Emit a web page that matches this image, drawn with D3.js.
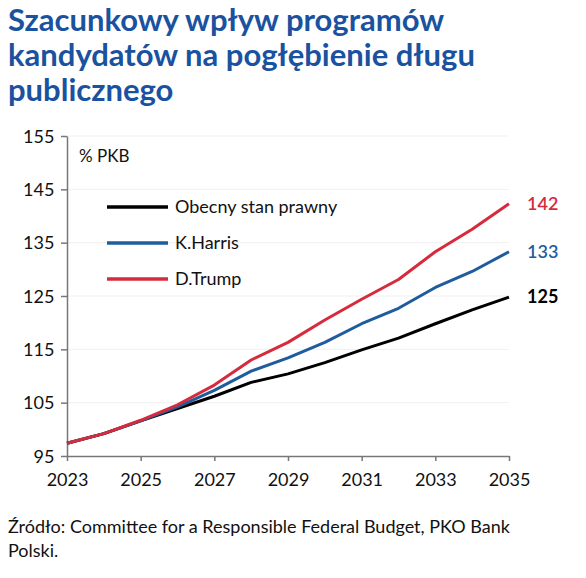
<!DOCTYPE html>
<html>
<head>
<meta charset="utf-8">
<script src="https://cdn.jsdelivr.net/npm/d3@7"></script>
<style>
  body { margin: 0; background: #fff; }
  text { font-family: Lato, "Open Sans", sans-serif; }
</style>
</head>
<body>
<script>
// data
var years = [2023, 2024, 2025, 2026, 2027, 2028, 2029, 2030, 2031, 2032, 2033, 2034, 2035];
var obecny = [97.4, 99.2, 101.6, 103.9, 106.2, 108.8, 110.4, 112.5, 114.9, 117.1, 119.8, 122.4, 124.8];
var harris = [97.4, 99.2, 101.6, 104.2, 107.3, 110.9, 113.4, 116.3, 119.8, 122.7, 126.6, 129.6, 133.3];
var trump  = [97.4, 99.2, 101.7, 104.6, 108.3, 113.0, 116.3, 120.5, 124.4, 128.1, 133.3, 137.5, 142.3];
var yTicks = [95, 105, 115, 125, 135, 145, 155];
var xTicks = [2023, 2025, 2027, 2029, 2031, 2033, 2035];
var seriesNames = ["Obecny stan prawny", "K.Harris", "D.Trump"];
var endLabels = ["125", "133", "142"];
var colors = ["#000000", "#1f5c9d", "#d52b3d"];

var svgWidth = 586, svgHeight = 578;
var margin = { top: 136, right: 77, bottom: 122, left: 67 };
var chartWidth = svgWidth - margin.left - margin.right;
var chartHeight = svgHeight - margin.top - margin.bottom;

var svg = d3.select("body").append("svg")
    .attr("width", svgWidth)
    .attr("height", svgHeight);

// title
var title = svg.append("text")
    .attr("fill", "#1a529f")
    .attr("font-size", 31)
    .attr("font-weight", "bold");
["Szacunkowy wpływ programów", "kandydatów na pogłębienie długu", "publicznego"].forEach(function(t, i) {
    title.append("tspan").attr("x", 8).attr("y", 31 + i * 35).text(t);
});

var chartGroup = svg.append("g")
    .attr("transform", `translate(${margin.left}, ${margin.top})`);

var x = d3.scaleLinear().domain([2023, 2035]).range([0, chartWidth]);
var y = d3.scaleLinear().domain([95, 155]).range([chartHeight, 0]);

// gridlines
chartGroup.selectAll(".grid")
    .data(yTicks.slice(1))
    .enter().append("line")
    .attr("x1", 0).attr("x2", chartWidth)
    .attr("y1", d => y(d)).attr("y2", d => y(d))
    .attr("stroke", "#f0f0f0")
    .attr("stroke-width", 1);

// axes
var bottomAxis = d3.axisBottom(x).tickValues(xTicks).tickFormat(d3.format("d")).tickSize(5).tickSizeOuter(0);
var leftAxis = d3.axisLeft(y).tickValues(yTicks).tickSize(6).tickSizeOuter(0);

var gx = chartGroup.append("g").attr("transform", `translate(0, ${chartHeight})`).call(bottomAxis);
var gy = chartGroup.append("g").call(leftAxis);
[gx, gy].forEach(function(g) {
    g.select(".domain").attr("stroke", "#777").attr("stroke-width", 1.5);
    g.selectAll(".tick line").attr("stroke", "#777").attr("stroke-width", 1.5);
    g.selectAll(".tick text").attr("fill", "#111").attr("font-size", 18)
        .style("font-family", "Lato, sans-serif");
});
gx.selectAll(".tick text").attr("dy", "1.2em");
gy.selectAll(".tick text").attr("dx", "-0.2em").attr("dy", "0.35em");

// lines
var line = d3.line()
    .x((d, i) => x(years[i]))
    .y(d => y(d));

var allSeries = [obecny, harris, trump];
allSeries.forEach(function(s, i) {
    chartGroup.append("path")
        .datum(s)
        .attr("fill", "none")
        .attr("stroke", colors[i])
        .attr("stroke-width", 3)
        .attr("stroke-linejoin", "round")
        .attr("d", line);

    chartGroup.append("text")
        .attr("x", chartWidth + 18)
        .attr("y", y(s[s.length - 1]))
        .attr("dy", "0.35em")
        .attr("fill", colors[i])
        .attr("font-size", 18)
        .attr("font-weight", i == 0 ? "bold" : "600")
        .text(endLabels[i]);
});

// unit label
chartGroup.append("text")
    .attr("x", 12)
    .attr("y", 26)
    .attr("font-size", 17)
    .attr("fill", "#111")
    .text("% PKB");

// legend
var legend = chartGroup.selectAll(".legend")
    .data(seriesNames)
    .enter().append("g")
    .attr("transform", (d, i) => `translate(40, ${71 + i * 36})`);

legend.append("line")
    .attr("x1", 0).attr("x2", 61)
    .attr("y1", 0).attr("y2", 0)
    .attr("stroke", (d, i) => colors[i])
    .attr("stroke-width", 3.5);

legend.append("text")
    .attr("x", 68)
    .attr("dy", "0.35em")
    .attr("font-size", 18)
    .attr("fill", "#111")
    .text(d => d);

// source
var src = svg.append("text")
    .attr("font-size", 18)
    .attr("fill", "#111");
["Źródło: Committee for a Responsible Federal Budget, PKO Bank", "Polski."].forEach(function(t, i) {
    src.append("tspan").attr("x", 8).attr("y", 533 + i * 24).text(t);
});
</script>
</body>
</html>
